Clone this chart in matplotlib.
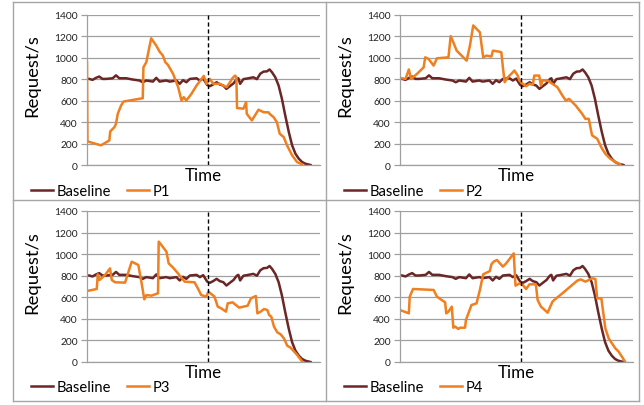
import matplotlib
matplotlib.use("Agg")
import matplotlib.pyplot as plt
from matplotlib.lines import Line2D

plt.rcParams['font.family'] = ['Lato', 'DejaVu Sans']

# time axis is in arbitrary units (baseline run = 0..100)
base_t = [0, 1.5, 3, 4.5, 6, 7.6, 10.6, 12.1, 13.6, 16.7, 19.7, 22.7, 24.2, 25.8, 28.8,
          30.3, 31.8, 34.8, 36.4, 39.4, 40.9, 42.4, 43.9, 45.5, 48.5, 50, 51.5, 53.3, 54.5, 56,
          57.6, 59, 60.6, 62, 63.6, 65.2, 66.7, 67.4, 68.2, 69.7, 71.2, 74.2, 75.8, 77.3, 78.8,
          80.3, 81.5, 82.6, 84.1, 85.6, 87.1, 88.6, 90.2, 91.7, 93.2, 94.7, 96.2, 97.7, 100]
base_v = [802, 793, 811, 824, 802, 802, 808, 835, 808, 808, 796, 787, 771, 787, 777,
          812, 777, 787, 777, 787, 756, 790, 771, 802, 808, 787, 805, 746, 734, 750,
          771, 750, 740, 709, 735, 760, 800, 808, 756, 800, 805, 817, 800, 850, 870,
          872, 890, 864, 817, 740, 616, 461, 307, 183, 105, 59, 28, 12, 0]

p1_t = [-1, -0.8, 5.3, 9.1, 9.5, 11.4, 12.1, 12.9, 14.4, 15.5, 24.2, 24.5, 25.8, 28.0, 30.3,
        31.8, 33.3, 34.4, 35.6, 37.9, 40.2, 41.7, 42.7, 43.9, 46.2, 48.5, 50.8, 51.8, 53.0, 54.5,
        56.1, 59.1, 62.1, 63.6, 64.6, 65.9, 66.5, 66.8, 69.7, 70.9, 71.2, 73.5, 76.5, 78.8, 81.1,
        81.5, 83.3, 84.8, 86.1, 87.9, 89.4, 91.7, 93.9, 96.2]
p1_v = [957, 220, 183, 229, 313, 353, 384, 477, 554, 591, 622, 910, 957, 1180, 1112,
        1056, 1019, 957, 932, 849, 725, 601, 632, 601, 663, 740, 802, 830, 756, 802,
        756, 756, 725, 770, 805, 833, 820, 530, 525, 585, 477, 415, 515, 492, 490,
        477, 446, 400, 291, 260, 183, 90, 28, 6]

p2_t = [-1, 1.5, 3.0, 4.0, 6.7, 9.7, 10.4, 11.9, 14.2, 15.7, 20.9, 21.9, 23.1, 24.6, 27.6,
        29.1, 30.6, 32.1, 35.1, 36.6, 38.1, 40.3, 41.0, 43.7, 44.8, 45.5, 46.3, 47.8, 49.3, 50.7,
        52.2, 53.0, 54.5, 56.0, 57.5, 59.0, 59.7, 61.9, 62.7, 63.4, 65.7, 67.9, 70.1, 72.4, 73.9,
        75.4, 78.4, 81.3, 82.8, 84.3, 85.8, 88.1, 90.3, 91.8, 94.0, 96.3, 98.5]
p2_v = [811, 802, 890, 802, 849, 910, 1003, 988, 926, 994, 1003, 1200, 1143, 1065, 1003,
        972, 1112, 1300, 1236, 1003, 1019, 1010, 1065, 1056, 1050, 910, 771, 818, 849, 880,
        833, 786, 756, 734, 756, 746, 833, 833, 740, 787, 787, 756, 725, 647, 601,
        616, 554, 477, 430, 430, 276, 245, 152, 105, 59, 28, 6]

p3_t = [-1, 3.4, 3.9, 4.6, 7.2, 9.4, 10.2, 11.7, 16.2, 19.2, 20.7, 22.2, 23.7, 24.9, 25.9,
        28.1, 31.1, 31.4, 32.6, 34.9, 35.9, 37.9, 40.1, 43.1, 47.6, 49.1, 50.6, 52.8, 53.9, 56.6,
        58.1, 59.6, 61.8, 62.6, 64.8, 66.3, 67.8, 71.6, 73.1, 75.3, 76.0, 77.5, 79.0, 80.5, 81.3,
        82.3, 83.5, 85.0, 86.5, 88.0, 89.5, 91.0, 94.0, 96.3]
p3_v = [658, 677, 813, 760, 807, 868, 760, 739, 736, 930, 915, 899, 729, 581, 621,
        615, 637, 1116, 1085, 1023, 915, 875, 822, 745, 739, 683, 621, 606, 652, 606,
        513, 498, 467, 544, 553, 528, 504, 522, 590, 612, 451, 467, 491, 482, 436,
        420, 328, 275, 257, 219, 151, 133, 65, 3]

p4_t = [-1, 3.0, 3.4, 4.9, 14.2, 15.7, 19.4, 19.9, 20.9, 22.4, 23.1, 23.9, 25.4, 26.1, 28.4,
        28.8, 31.3, 33.6, 35.1, 36.6, 39.6, 40.3, 41.3, 42.8, 45.5, 47.0, 49.3, 50.4, 51.2, 53.0,
        54.5, 56.0, 57.5, 60.4, 61.2, 62.7, 64.9, 65.7, 67.9, 68.7, 72.4, 79.1, 80.6, 82.8, 84.3,
        85.8, 87.3, 88.1, 90.0, 91.0, 91.8, 93.3, 94.8, 96.3, 97.8, 99.3, 100.7]
p4_v = [482, 451, 606, 677, 668, 606, 553, 451, 467, 513, 318, 328, 306, 318, 318,
        389, 528, 544, 668, 813, 843, 905, 930, 946, 884, 915, 977, 1007, 708, 729,
        714, 677, 720, 720, 575, 513, 473, 457, 559, 575, 637, 754, 766, 745, 760,
        776, 770, 590, 590, 436, 312, 219, 173, 127, 96, 49, 3]

series = [("P1", p1_t, p1_v), ("P2", p2_t, p2_v), ("P3", p3_t, p3_v), ("P4", p4_t, p4_v)]

W, H = 644, 406
fig = plt.figure(figsize=(W / 100, H / 100), dpi=100)

# panel frames (pixel coords)
frame_c = '#a6a6a6'
for x in (13, 326, 639):
    fig.add_artist(Line2D([x / W, x / W], [1 - 3 / H, 1 - 402 / H], color=frame_c, lw=1))
for y in (3, 201, 402):
    fig.add_artist(Line2D([13 / W, 639 / W], [1 - y / H, 1 - y / H], color=frame_c, lw=1))

# plot area boxes: left, top(px), right, bottom(px)
boxes = [(87, 15.7, 320, 166), (400, 15.7, 633, 166),
         (87, 212, 320, 363), (400, 212, 633, 363)]

base_col = '#6b2626'
p_col = '#ef7f1f'
grid_c = '#a0a0a0'

for (name, t, v), (x0, y0, x1, y1) in zip(series, boxes):
    ax = fig.add_axes([x0 / W, 1 - y1 / H, (x1 - x0) / W, (y1 - y0) / H])
    ax.plot(base_t, base_v, color=base_col, lw=1.8, label='Baseline')
    ax.plot(t, v, color=p_col, lw=1.8, label=name)
    ax.axvline(53.5, color='black', lw=1, ls=(0, (3, 2)))

    ax.set_xlim(-1, 104.3)
    ax.set_ylim(0, 1400)
    ax.set_yticks(range(0, 1401, 200))
    ax.set_xticks([])
    ax.grid(axis='y', color=grid_c, lw=0.9)
    ax.set_axisbelow(True)
    for s in ('top', 'right'):
        ax.spines[s].set_visible(False)
    for s in ('left', 'bottom'):
        ax.spines[s].set_color(grid_c)
        ax.spines[s].set_linewidth(0.9)
    ax.tick_params(axis='y', length=4, width=0.9, color=grid_c, pad=2.5,
                   labelsize=7.4, labelcolor='#222222')

    ax.text(0.5, -0.068, 'Time', transform=ax.transAxes, ha='center', va='center',
            fontsize=12.2, color='black')
    ax.text(-0.235, 0.6, 'Request/s', transform=ax.transAxes, rotation=90,
            ha='center', va='center', fontsize=13.3, color='black')

    leg_y = -0.173 if y0 < 100 else -0.166
    ax.legend(loc='center left', bbox_to_anchor=(-0.24, leg_y), ncol=2, frameon=False,
              fontsize=10.6, handlelength=1.5, handletextpad=0.25, columnspacing=1.05,
              borderpad=0, borderaxespad=0)

fig.savefig('out.png', dpi=100)
